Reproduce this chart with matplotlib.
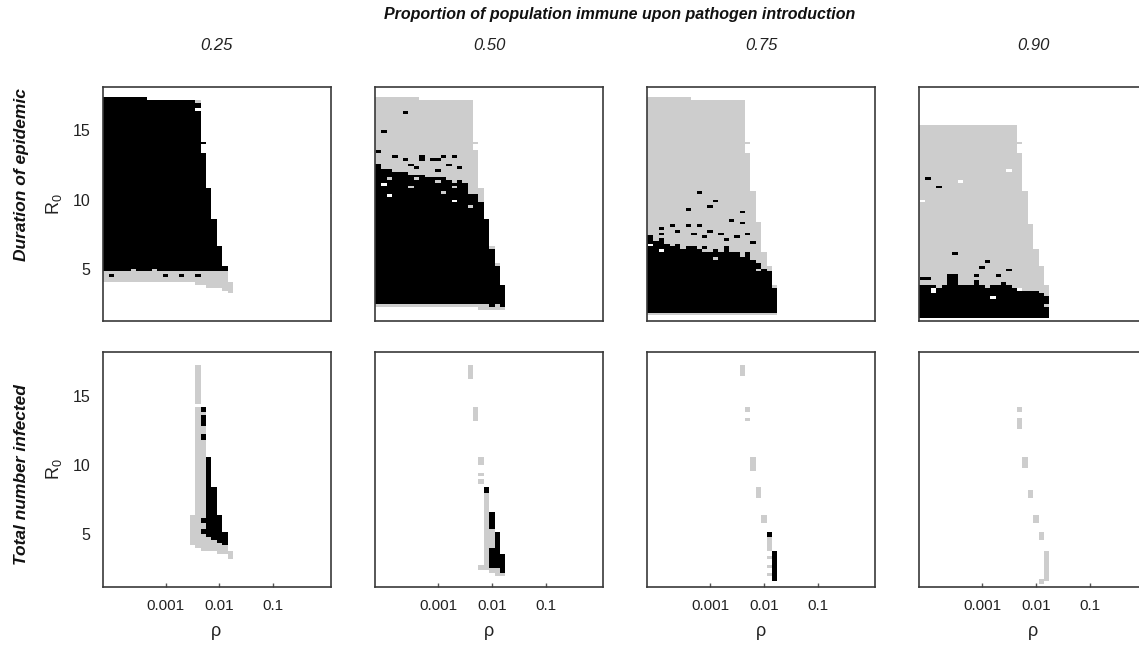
import numpy as np
import matplotlib
matplotlib.use("Agg")
import matplotlib.pyplot as plt
from matplotlib.colors import ListedColormap

plt.rcParams['font.family'] = ['Liberation Sans', 'DejaVu Sans']
plt.rcParams['mathtext.default'] = 'regular'

# cell states
W, G, B = 0, 1, 2
nan = np.nan

# parameter grid: log10(rho) column centres, R0 row edges
RHO_LOG = np.round(np.arange(-4.2, 0.05, 0.1), 2)
R0_EDGES = np.round(np.arange(1.2, 18.21, 0.2), 2)

IMMUNE = ["0.25", "0.50", "0.75", "0.90"]
ROW_LABELS = ["Duration of epidemic", "Total number infected"]
X_TICKS = [0.001, 0.01, 0.1]
X_TICKLABELS = ["0.001", "0.01", "0.1"]
Y_TICKS = [5, 10, 15]

# ---------------- top row: duration of epidemic (per rho column) ----------------
# immune 0.25
T1_gray_lo = [4.1, 4.0, 4.1, 4.1, 4.0, 4.1, 4.1, 4.0, 4.1, 4.1, 4.0, 4.1, 4.1, 4.0, 4.1,
              4.1, 4.0, 4.0, 3.9, 3.8, 3.7, 3.6, 3.6, 3.5, 3.3]
T1_gray_hi = [4.8] * 24 + [4.0]
T1_black_lo = [4.8] * 24 + [nan]
T1_black_hi = [17.4, 17.4, 17.4, 17.4, 17.4, 17.4, 17.4, 17.4, 17.4,
               17.2, 17.2, 17.2, 17.2, 17.2, 17.2, 17.2, 17.2, 17.2,
               17.0, 13.4, 10.7, 8.5, 6.6, 5.3, nan]
T1_specks = [(2, 4.6, B), (6, 4.9, G), (10, 4.9, G), (15, 4.6, B), (18, 4.6, B),
             (18, 17.1, G), (18, 16.5, W), (19, 14.1, B), (12, 4.6, B)]

# immune 0.50
T2_gray_lo = [2.3] * 20 + [2.0] * 5
T2_gray_hi = [17.4] * 9 + [17.2] * 10 + [13.6, 10.8, 8.6, 6.6, 5.4, 3.8]
T2_black_lo = [2.5] * 25
T2_black_hi = [12.6, 12.6, 12.2, 12.2, 12.0, 12.0, 12.0, 11.8, 11.8, 11.8, 11.6, 11.6,
               11.6, 11.6, 11.4, 11.2, 11.4, 11.2, 10.6, 10.4, 9.8, 8.5, 6.4, 5.2, 3.7]
T2_specks = [(6, 16.3, B), (2, 14.8, B), (1, 13.6, B), (4, 13.1, B), (6, 12.9, B),
             (7, 12.6, B), (9, 13.2, B), (9, 12.9, B), (11, 13.0, B), (12, 12.9, B),
             (13, 13.1, B), (15, 13.2, B), (14, 12.5, B), (16, 12.4, B), (12, 12.2, B),
             (8, 12.4, B), (19, 14.1, G),
             (2, 11.2, W), (3, 10.4, W), (3, 11.6, G), (7, 10.9, G), (8, 11.6, G),
             (13, 10.5, G), (15, 9.8, W), (18, 10.5, G), (18, 9.5, G), (12, 11.3, G),
             (15, 11.0, G), (22, 2.3, B), (24, 2.3, B)]

# immune 0.75
T3_gray_lo = [1.6] * 25
T3_gray_hi = [17.4] * 9 + [17.2] * 10 + [13.4, 10.5, 8.35, 6.2, 5.25, 3.7]
T3_black_lo = [1.8] * 25
T3_black_hi = [7.4, 7.4, 7.0, 7.2, 6.8, 6.6, 6.8, 6.4, 6.6, 6.6, 6.4, 6.6, 6.2, 6.4,
               6.2, 6.6, 6.2, 6.2, 6.0, 6.2, 5.6, 5.4, 5.0, 4.8, 3.6]
T3_specks = [(10, 10.6, B), (8, 9.3, B), (12, 9.55, B), (13, 9.85, B), (18, 9.1, B),
             (16, 8.6, B), (18, 8.3, B), (5, 8.1, B), (8, 8.1, B), (10, 8.1, B),
             (6, 7.75, B), (9, 7.6, B), (12, 7.8, B), (14, 7.6, B), (19, 7.6, B),
             (17, 7.4, B), (3, 7.9, B), (3, 7.5, B), (11, 7.4, B), (15, 7.2, B),
             (20, 6.9, B), (19, 14.1, G),
             (1, 6.8, W), (3, 6.3, W), (5, 6.9, G), (11, 6.3, G), (13, 5.8, G),
             (18, 6.1, G), (18, 5.9, G), (21, 5.0, G), (14, 6.9, G), (8, 6.7, G)]

# immune 0.90
T4_gray_lo = [1.5] * 25
T4_gray_hi = [15.4] * 19 + [13.4, 10.5, 8.2, 6.4, 5.2, 3.7]
T4_black_lo = [1.5] * 25
T4_black_hi = [3.8, 3.8, 3.8, 3.8, 3.6, 3.8, 4.6, 4.6, 3.8, 3.8, 3.8, 4.2, 3.8, 3.6,
               3.8, 3.8, 4.0, 3.8, 3.6, 3.6, 3.4, 3.4, 3.4, 3.2, 3.0]
T4_specks = [(2, 11.6, B), (4, 10.8, B), (8, 11.3, W), (17, 12.1, W), (1, 9.9, W),
             (7, 6.1, B), (13, 5.6, B), (12, 5.1, B), (17, 4.9, B), (15, 4.6, B),
             (1, 4.4, B), (2, 4.4, B), (11, 4.5, B), (19, 14.1, G),
             (3, 3.3, W), (3, 3.5, W), (14, 2.9, W), (19, 3.5, W), (24, 2.2, G),
             (8, 4.1, G), (8, 3.9, G), (9, 4.1, G)]

# ---------------- bottom row: total number infected (c, R0 low, R0 high, state) ----------------
B1_rects = [(17, 4.2, 6.4, G), (18, 4.0, 14.2, G), (18, 14.4, 17.2, G), (19, 3.9, 13.8, G),
            (19, 13.8, 14.1, B), (19, 12.8, 13.6, B), (19, 11.8, 12.1, B), (19, 5.9, 6.2, B),
            (19, 5.0, 5.3, B), (20, 3.8, 4.8, G), (20, 4.8, 10.6, B), (21, 3.8, 4.6, G),
            (21, 4.6, 8.4, B), (22, 3.7, 4.4, G), (22, 4.4, 6.4, B), (23, 3.6, 4.2, G),
            (23, 4.2, 5.2, B), (24, 3.3, 3.8, G)]
B2_rects = [(18, 16.2, 17.1, G), (19, 13.9, 14.1, G), (19, 13.2, 13.7, G), (20, 10.0, 10.6, G),
            (20, 9.2, 9.4, G), (20, 8.7, 8.9, G), (21, 8.0, 8.4, B), (21, 2.4, 8.0, G),
            (22, 5.3, 6.5, B), (22, 4.0, 5.3, G), (22, 2.6, 4.0, B), (23, 2.5, 5.2, B),
            (24, 2.2, 3.6, B), (20, 2.4, 2.8, G), (22, 2.2, 2.6, G), (23, 2.1, 2.5, G),
            (24, 2.0, 2.2, G)]
B3_rects = [(18, 16.4, 17.2, G), (19, 13.9, 14.1, G), (19, 13.2, 13.4, G), (20, 9.6, 10.5, G),
            (21, 7.7, 8.3, G), (22, 5.9, 6.4, G), (23, 4.7, 5.2, B), (23, 3.8, 4.7, G),
            (23, 3.2, 3.4, G), (23, 2.6, 2.8, G), (23, 2.0, 2.2, G), (24, 1.7, 3.7, B)]
B4_rects = [(19, 13.9, 14.1, G), (19, 12.7, 13.4, G), (20, 9.8, 10.6, G), (21, 7.7, 8.2, G),
            (22, 5.9, 6.3, G), (23, 4.7, 5.2, G), (24, 1.6, 3.7, G), (23, 1.5, 1.7, G)]

TOP = [(T1_gray_lo, T1_gray_hi, T1_black_lo, T1_black_hi, T1_specks),
       (T2_gray_lo, T2_gray_hi, T2_black_lo, T2_black_hi, T2_specks),
       (T3_gray_lo, T3_gray_hi, T3_black_lo, T3_black_hi, T3_specks),
       (T4_gray_lo, T4_gray_hi, T4_black_lo, T4_black_hi, T4_specks)]
BOTTOM = [B1_rects, B2_rects, B3_rects, B4_rects]

R0_MID = (R0_EDGES[:-1] + R0_EDGES[1:]) / 2


def band_grid(gray_lo, gray_hi, black_lo, black_hi, specks):
    z = np.zeros((len(R0_MID), len(RHO_LOG)))
    for c in range(len(gray_hi)):
        if not np.isnan(gray_hi[c]):
            z[(R0_MID >= gray_lo[c]) & (R0_MID <= gray_hi[c]), c] = G
        if not np.isnan(black_hi[c]):
            z[(R0_MID >= black_lo[c]) & (R0_MID <= black_hi[c]), c] = B
    for c, r, v in specks:
        z[int(np.argmin(np.abs(R0_MID - r))), c] = v
    return z


def rect_grid(rects):
    z = np.zeros((len(R0_MID), len(RHO_LOG)))
    for c, lo, hi, v in rects:
        z[(R0_MID >= lo - 0.01) & (R0_MID <= hi + 0.01), c] = v
    return z


cmap = ListedColormap(["white", "#cdcdcd", "black"])
x_edges = 10 ** np.append(RHO_LOG - 0.05, RHO_LOG[-1] + 0.05)

fig = plt.figure(figsize=(11.39, 6.46), dpi=100)
lefts = [102.5, 375, 647, 919]
rows = [(1 - 321 / 646, 234 / 646), (1 - 587 / 646, 235 / 646)]

for r, (bottom, height) in enumerate(rows):
    for i, left in enumerate(lefts):
        ax = fig.add_axes([left / 1139, bottom, 228 / 1139, height])
        z = band_grid(*TOP[i]) if r == 0 else rect_grid(BOTTOM[i])
        ax.pcolormesh(x_edges, R0_EDGES, z, cmap=cmap, vmin=0, vmax=2,
                      shading='flat', edgecolors='none', antialiased=False)
        ax.set_xscale('log')
        ax.set_xlim(10 ** -4.17, 10 ** 0.06)
        ax.set_ylim(1.2, 18.15)
        ax.minorticks_off()
        for s in ax.spines.values():
            s.set_color('#3a3a3a')
            s.set_linewidth(1.2)
        if r == 1:
            ax.set_xticks(X_TICKS)
            ax.set_xticklabels(X_TICKLABELS)
            ax.tick_params(axis='x', direction='in', length=3, width=1,
                           color='#555', labelsize=11, labelcolor='#222', pad=9)
            ax.set_xlabel('ρ', fontsize=13, color='#222')
            ax.xaxis.set_label_coords(0.5, -0.155)
        else:
            ax.set_xticks([])
        if i == 0:
            ax.set_yticks(Y_TICKS)
            ax.tick_params(axis='y', length=0, labelsize=11.5, labelcolor='#222', pad=9)
            ax.set_ylabel('R$_0$', fontsize=13, color='#222')
            ax.yaxis.set_label_coords(-0.17, 0.5)
        else:
            ax.set_yticks([])

fig.text(620 / 1139, 1 - 14 / 646, "Proportion of population immune upon pathogen introduction",
         ha='center', va='center', fontsize=11.5, fontweight='bold', style='italic', color='#111')
for left, lbl in zip(lefts, IMMUNE):
    fig.text((left + 114) / 1139, 1 - 45 / 646, lbl, ha='center', va='center',
             fontsize=12, style='italic', color='#222')
fig.text(22 / 1139, 1 - 175 / 646, ROW_LABELS[0], rotation=90, ha='center', va='center',
         fontsize=12.5, fontweight='bold', style='italic', color='#111')
fig.text(22 / 1139, 1 - 475 / 646, ROW_LABELS[1], rotation=90, ha='center', va='center',
         fontsize=12.5, fontweight='bold', style='italic', color='#111')

fig.savefig("out.png", dpi=100)
